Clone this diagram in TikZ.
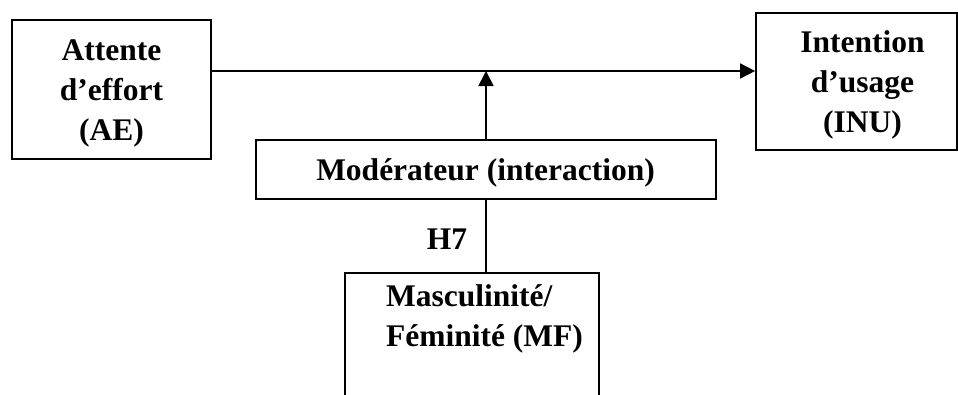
\documentclass[tikz,border=0pt]{standalone}
\usepackage{fontspec}
\setmainfont{Liberation Serif}
\usetikzlibrary{arrows.meta}
\begin{document}
\begin{tikzpicture}[x=1pt,y=-1pt,
  box/.style={draw, line width=1.7pt, inner sep=0pt},
  txt/.style={inner sep=0pt, align=center, font=\fontsize{31.5}{40}\selectfont\bfseries},
  ln/.style={line width=1.7pt},
  arr/.style={line width=1.7pt, -{Triangle[length=15pt,width=15pt]}}]
\clip (0,0) rectangle (958,394);
\node[box, minimum width=199, minimum height=139] (AE) at (111.5,89.5) {};
\node[txt] (AEt) at (111.5,93) {Attente\\d’effort\\(AE)};
\node[box, minimum width=201, minimum height=137] (INU) at (856.5,81.5) {};
\node[txt] (INUt) at (862.5,85) {Intention\\d’usage\\(INU)};
\node[box, minimum width=460, minimum height=59] (MOD) at (486,169.5) {};
\node[txt] (MODt) at (485.5,172.5) {Modérateur (interaction)};
\node[box, minimum width=254, minimum height=200, anchor=north] (MF) at (472,272) {};
\node[txt, align=left] (MFt) at (484.5,319) {Masculinité/\\Féminité (MF)};
\node[txt] (H7) at (447,239) {H7};
\coordinate (j) at (486,71);
\draw[arr] (AE.east |- j) -- (INU.west |- j);
\draw[arr] (MOD.north) -- (j);
\draw[ln] (MOD.south) -- (MOD.south |- MF.north);
\end{tikzpicture}
\end{document}
